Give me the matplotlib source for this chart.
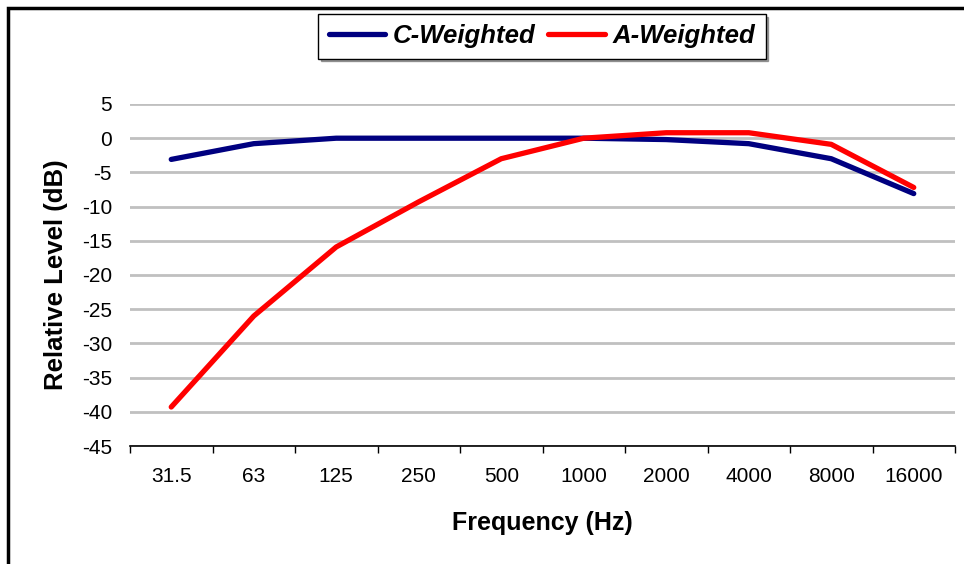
import numpy as np
import matplotlib.pyplot as plt
from matplotlib.patches import Rectangle

plt.rcParams['font.family'] = ['Liberation Sans', 'DejaVu Sans']

freq_labels = ['31.5', '63', '125', '250', '500', '1000', '2000', '4000', '8000', '16000']
c_weighted = [-3.1, -0.8, 0.0, 0.0, 0.0, 0.0, -0.2, -0.8, -3.0, -8.1]
a_weighted = [-39.3, -26.0, -15.9, -9.3, -3.0, 0.0, 0.8, 0.8, -0.9, -7.2]
y_ticks = [5, 0, -5, -10, -15, -20, -25, -30, -35, -40, -45]

W, H = 964, 564
fig = plt.figure(figsize=(W / 100, H / 100), dpi=100)

# outer chart border (only left and top edges are visible in the reference)
fig.patches.append(Rectangle((8 / W, -0.05), 1.2, 1 - 8 / H + 0.05,
                             transform=fig.transFigure, fill=False,
                             edgecolor='black', linewidth=2.5))

ax = fig.add_axes([130 / W, (H - 446) / H, (955 - 130) / W, (446 - 104) / H])
x = np.arange(len(freq_labels))

ax.plot(x, c_weighted, color='#000080', linewidth=3.8, label='C-Weighted',
        solid_capstyle='round', zorder=3)
ax.plot(x, a_weighted, color='#ff0000', linewidth=3.8, label='A-Weighted',
        solid_capstyle='round', zorder=4)

ax.set_xlim(-0.5, len(freq_labels) - 0.5)
ax.set_ylim(-45, 5)
ax.set_yticks(y_ticks)
ax.set_yticklabels([str(v) for v in y_ticks], fontsize=15)
ax.set_xticks(x)
ax.set_xticklabels(freq_labels, fontsize=15)
ax.set_xticks(np.arange(-0.5, len(freq_labels), 1), minor=True)
ax.tick_params(axis='x', which='major', length=0, pad=15)
ax.tick_params(axis='x', which='minor', length=5, direction='out', width=1)
ax.tick_params(axis='y', length=0, pad=13)

ax.grid(axis='y', color='#c0c0c0', linewidth=2)
ax.set_axisbelow(True)
for side in ['left', 'right', 'top']:
    ax.spines[side].set_visible(False)
ax.spines['bottom'].set_linewidth(1.2)

ax.set_xlabel('Frequency (Hz)', fontsize=18, fontweight='bold', labelpad=18)
ax.set_ylabel('Relative Level (dB)', fontsize=18.5, fontweight='bold', labelpad=10)

fig.legend(loc='upper center', bbox_to_anchor=(542 / W, 1 - 14 / H), ncol=2,
           prop={'size': 18.5, 'weight': 'bold', 'style': 'italic'},
           frameon=True, fancybox=False, shadow=True, edgecolor='black',
           handlelength=2.2, handletextpad=0.3, columnspacing=0.5,
           borderpad=0.4, borderaxespad=0)

fig.savefig('out.png', dpi=100, facecolor='white')
